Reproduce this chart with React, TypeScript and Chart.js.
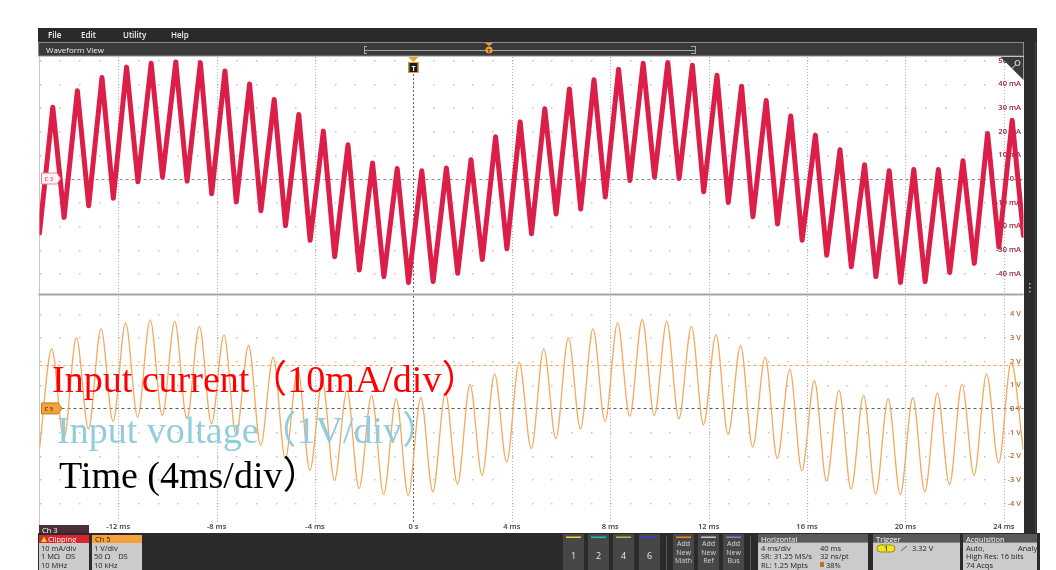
import React, { useEffect, useRef } from 'react';
import { Chart, registerables } from 'chart.js';

Chart.register(...registerables);

// ---------- axis / tick data ----------
const timeStart = -15.2; // ms, left edge of the record
const timeEnd = 24.8; // ms, right edge
const timeTicks = [-12, -8, -4, 0, 4, 8, 12, 16, 20, 24];
const timeTickLabels = ['-12 ms', '-8 ms', '-4 ms', '0 s', '4 ms', '8 ms', '12 ms', '16 ms', '20 ms', '24 ms'];
const currentTicks = [50, 40, 30, 20, 10, 0, -10, -20, -30, -40];
const currentTickLabels = ['50 mA', '40 mA', '30 mA', '20 mA', '10 mA', '0 A', '-10 mA', '-20 mA', '-30 mA', '-40 mA'];
const voltageTicks = [4, 3, 2, 1, 0, -1, -2, -3, -4];
const voltageTickLabels = ['4 V', '3 V', '2 V', '1 V', '0 V', '-1 V', '-2 V', '-3 V', '-4 V'];
const triggerLevel = 1.85; // V, orange dashed level

// ---------- waveform data (one value per 1 ms cycle) ----------
const cyclePeriod = 1; // ms
const currentPeakPhase = -14.66;
const currentTroughPhase = -14.2;
const voltagePeakPhase = -14.7;
const voltageTroughPhase = -14.21;

const currentStart = -23; // mA at left edge
const currentPeaks = [30.1, 37.0, 42.6, 47.0, 48.6, 49.2, 48.9, 45.4, 39.9, 33.3, 27.0, 20.0, 14.2, 6.5, 4.2, 3.3, 4.4, 7.9, 17.6, 23.9,
  29.4, 37.8, 41.7, 46.1, 48.6, 48.9, 47.8, 43.6, 38.9, 32.9, 26.4, 18.3, 12.1, 5.8, 3.3, 3.8, 3.8, 7.5, 19.0, 24.6];
const currentTroughs = [-16.4, -11.5, -8.3, -1.4, 0.6, -1.1, -6.4, -9.9, -13.6, -19.9, -26.1, -33.0, -38.6, -41.4, -43.9, -43.5, -40.0, -34.2, -29.6, -23.3,
  -15.0, -12.9, -7.8, -0.8, 0.6, 0.0, -5.6, -10.1, -16.1, -19.2, -26.1, -32.4, -37.2, -41.4, -43.9, -43.5, -39.7, -35.8, -28.9, -24.0];

const voltageStart = -1.7; // V at left edge
const voltagePeaks = [2.52, 2.98, 3.36, 3.62, 3.74, 3.68, 3.47, 3.11, 2.66, 2.17, 1.65, 1.14, 0.76, 0.55, 0.41, 0.45, 0.66, 1.0, 1.46, 1.95,
  2.52, 2.98, 3.36, 3.62, 3.76, 3.68, 3.47, 3.12, 2.66, 2.17, 1.65, 1.17, 0.77, 0.55, 0.41, 0.45, 0.66, 1.03, 1.46, 1.95];
const voltageTroughs = [-1.28, -0.86, -0.55, -0.37, -0.3, -0.44, -0.65, -1.11, -1.56, -2.12, -2.62, -3.04, -3.39, -3.64, -3.67, -3.53, -3.21, -2.83, -2.27, -1.7,
  -1.28, -0.86, -0.55, -0.33, -0.3, -0.44, -0.69, -1.11, -1.63, -2.12, -2.64, -3.07, -3.41, -3.62, -3.64, -3.53, -3.22, -2.83, -2.31, -1.75];

function buildTrace(start: number, peaks: number[], troughs: number[], pPhase: number, tPhase: number) {
  const pts: { x: number; y: number }[] = [{ x: timeStart, y: start }];
  for (let k = 0; k < peaks.length; k++) {
    pts.push({ x: pPhase + k * cyclePeriod, y: peaks[k] });
    pts.push({ x: tPhase + k * cyclePeriod, y: troughs[k] });
  }
  return pts;
}

const UI = '"Open Sans", "Noto Sans", sans-serif';
const SERIF = '"Liberation Serif", "Noto Sans CJK SC", serif';

function txt(ctx: CanvasRenderingContext2D, s: string, x: number, y: number, font: string, color: string, align: CanvasTextAlign = 'left') {
  ctx.font = font;
  ctx.fillStyle = color;
  ctx.textAlign = align;
  ctx.textBaseline = 'alphabetic';
  ctx.fillText(s, x, y);
}

function hLine(ctx: CanvasRenderingContext2D, x1: number, x2: number, y: number, color: string, dash: number[], w = 1) {
  ctx.beginPath();
  ctx.setLineDash(dash);
  ctx.strokeStyle = color;
  ctx.lineWidth = w;
  ctx.moveTo(x1, Math.round(y) + 0.5);
  ctx.lineTo(x2, Math.round(y) + 0.5);
  ctx.stroke();
  ctx.setLineDash([]);
}

function vLine(ctx: CanvasRenderingContext2D, x: number, y1: number, y2: number, color: string, dash: number[], w = 1) {
  ctx.beginPath();
  ctx.setLineDash(dash);
  ctx.strokeStyle = color;
  ctx.lineWidth = w;
  ctx.moveTo(Math.round(x) + 0.5, y1);
  ctx.lineTo(Math.round(x) + 0.5, y2);
  ctx.stroke();
  ctx.setLineDash([]);
}

const PANEL_SPLIT = 294;
const PANEL_BOTTOM = 522;

const scopePlugin = {
  id: 'scopeChrome',
  beforeDatasetsDraw(chart: any) {
    const ctx: CanvasRenderingContext2D = chart.ctx;
    const xs = chart.scales.x;
    const yI = chart.scales.yI;
    const yV = chart.scales.yV;
    const area = chart.chartArea;
    ctx.save();
    // grid: minor dot rows
    ctx.fillStyle = '#c4c4c4';
    for (let j = -4; j <= 46; j++) {
      const t = -12 + j * 0.8;
      if (t < timeStart || t > timeEnd) continue;
      const px = Math.round(xs.getPixelForValue(t));
      currentTicks.forEach((v) => {
        if (v === 0) return;
        ctx.fillRect(px, Math.round(yI.getPixelForValue(v)), 1.5, 1.5);
      });
      voltageTicks.forEach((v) => {
        if (v === 0) return;
        ctx.fillRect(px, Math.round(yV.getPixelForValue(v)), 1.5, 1.5);
      });
    }
    // major vertical dotted lines
    timeTicks.forEach((t) => {
      if (t === 0) return;
      const px = xs.getPixelForValue(t);
      vLine(ctx, px, area.top, PANEL_SPLIT - 1, 'rgba(150,150,150,0.75)', [1, 2]);
      vLine(ctx, px, PANEL_SPLIT + 2, PANEL_BOTTOM, 'rgba(150,150,150,0.75)', [1, 2]);
    });
    // left border of panel
    vLine(ctx, area.left - 1, area.top, PANEL_BOTTOM + 10, '#c8c8c8', []);
    // panel separator
    hLine(ctx, area.left - 1, area.right, PANEL_SPLIT - 0.5, '#a6a6a6', [], 2);
    // reference levels
    hLine(ctx, area.left + 20, area.right, yI.getPixelForValue(0), '#8c8c8c', [3, 3]);
    hLine(ctx, area.left + 22, area.right, yV.getPixelForValue(0), '#5c5c5c', [3, 3]);
    hLine(ctx, area.left, area.right, yV.getPixelForValue(triggerLevel), '#f3a55c', [3, 3]);
    // trigger time line
    const x0 = xs.getPixelForValue(0);
    vLine(ctx, x0, 74, PANEL_SPLIT - 1, '#666666', [2, 2]);
    vLine(ctx, x0, PANEL_SPLIT + 2, PANEL_BOTTOM, '#666666', [2, 2]);
    // right-side tick labels (drawn under the traces)
    currentTicks.forEach((v, i) => {
      txt(ctx, currentTickLabels[i], 1021, yI.getPixelForValue(v) + 2.5, `600 7.5px ${UI}`, '#a0233b', 'right');
    });
    voltageTicks.forEach((v, i) => {
      txt(ctx, voltageTickLabels[i], 1021, yV.getPixelForValue(v) + 2.5, `600 7.5px ${UI}`, '#b0682c', 'right');
    });
    ctx.restore();
  },
  afterDatasetsDraw(chart: any) {
    const ctx: CanvasRenderingContext2D = chart.ctx;
    const xs = chart.scales.x;
    const yI = chart.scales.yI;
    const yV = chart.scales.yV;
    const area = chart.chartArea;
    ctx.save();

    // time labels under the plot
    timeTicks.forEach((t, i) => {
      txt(ctx, timeTickLabels[i], xs.getPixelForValue(t), 529, `600 7.5px ${UI}`, '#3a3a3a', 'center');
    });

    // zoom triangle top right
    ctx.beginPath();
    ctx.moveTo(area.right - 23, area.top);
    ctx.lineTo(area.right, area.top);
    ctx.lineTo(area.right, area.top + 23);
    ctx.closePath();
    ctx.fillStyle = '#3b3b3b';
    ctx.fill();
    ctx.beginPath();
    ctx.strokeStyle = '#e8e8e8';
    ctx.lineWidth = 1;
    ctx.arc(area.right - 6, area.top + 6, 2.5, 0, Math.PI * 2);
    ctx.moveTo(area.right - 8, area.top + 8);
    ctx.lineTo(area.right - 12, area.top + 12);
    ctx.stroke();

    // C3 badge
    const c3y = yI.getPixelForValue(0);
    ctx.beginPath();
    ctx.moveTo(41.5, c3y - 5.5);
    ctx.lineTo(57, c3y - 5.5);
    ctx.lineTo(60.5, c3y);
    ctx.lineTo(57, c3y + 5.5);
    ctx.lineTo(41.5, c3y + 5.5);
    ctx.closePath();
    ctx.fillStyle = '#fff3f5';
    ctx.fill();
    ctx.strokeStyle = '#f0849a';
    ctx.stroke();
    txt(ctx, 'C 3', 44.5, c3y + 2.5, `600 6px ${UI}`, '#e0486a');

    // C5 badge
    const c5y = yV.getPixelForValue(0);
    ctx.beginPath();
    ctx.moveTo(41.5, c5y - 5.5);
    ctx.lineTo(58, c5y - 5.5);
    ctx.lineTo(62, c5y);
    ctx.lineTo(58, c5y + 5.5);
    ctx.lineTo(41.5, c5y + 5.5);
    ctx.closePath();
    ctx.fillStyle = '#f2a33a';
    ctx.fill();
    ctx.strokeStyle = '#c8781a';
    ctx.stroke();
    txt(ctx, 'C 5', 44.5, c5y + 2.5, `600 6px ${UI}`, '#5a3000');

    // trigger T marker
    const x0 = xs.getPixelForValue(0);
    ctx.beginPath();
    ctx.moveTo(x0 - 5, area.top);
    ctx.lineTo(x0 + 5, area.top);
    ctx.lineTo(x0, area.top + 5);
    ctx.closePath();
    ctx.fillStyle = '#f0a030';
    ctx.fill();
    ctx.fillStyle = '#1c1c1c';
    ctx.fillRect(x0 - 5, area.top + 5, 10, 11);
    ctx.strokeStyle = '#f0a030';
    ctx.lineWidth = 1;
    ctx.strokeRect(x0 - 4.5, area.top + 5.5, 9, 10);
    txt(ctx, 'T', x0, area.top + 13.5, `700 7px ${UI}`, '#ffffff', 'center');

    // ---------- scope chrome ----------
    // menu bar
    ctx.fillStyle = '#2a2a2a';
    ctx.fillRect(38, 28, 999, 14);
    txt(ctx, 'File', 48, 38, `600 8px ${UI}`, '#f2f2f2');
    txt(ctx, 'Edit', 81, 38, `600 8px ${UI}`, '#f2f2f2');
    txt(ctx, 'Utility', 123, 38, `600 8px ${UI}`, '#f2f2f2');
    txt(ctx, 'Help', 171, 38, `600 8px ${UI}`, '#f2f2f2');
    // waveform view bar
    ctx.fillStyle = '#3a3a3a';
    ctx.fillRect(38, 42, 986, 14);
    ctx.strokeStyle = '#8c8c8c';
    ctx.lineWidth = 1;
    ctx.strokeRect(38.5, 42.5, 985, 13.5);
    txt(ctx, 'Waveform View', 46, 53, `8px ${UI}`, '#f0f0f0');
    // record bracket
    hLine(ctx, 364, 695, 49.5, '#a8a8a8', []);
    vLine(ctx, 363.5, 46, 54, '#a8a8a8', []);
    hLine(ctx, 364, 367, 46, '#a8a8a8', []);
    hLine(ctx, 364, 367, 53, '#a8a8a8', []);
    vLine(ctx, 694.5, 46, 54, '#a8a8a8', []);
    hLine(ctx, 691, 695, 46, '#a8a8a8', []);
    hLine(ctx, 691, 695, 53, '#a8a8a8', []);
    ctx.beginPath();
    ctx.moveTo(485, 43);
    ctx.lineTo(493, 43);
    ctx.lineTo(489, 46);
    ctx.closePath();
    ctx.fillStyle = '#f0a030';
    ctx.fill();
    ctx.beginPath();
    ctx.arc(489, 50, 3.5, 0, Math.PI * 2);
    ctx.fillStyle = '#f0a030';
    ctx.fill();
    txt(ctx, 'T', 489, 52.5, `700 5px ${UI}`, '#3a2000', 'center');

    // right strip
    ctx.fillStyle = '#2c2c2c';
    ctx.fillRect(1024, 42, 13, 528);
    vLine(ctx, 1035, 42, 570, '#4a4a4a', []);
    ctx.fillStyle = '#bbbbbb';
    [283, 287, 291].forEach((yy) => ctx.fillRect(1029, yy, 1.5, 1.5));

    // bottom bar
    ctx.fillStyle = '#2b2b2b';
    ctx.fillRect(38, 533, 1002, 37);

    // Ch 3 tab + box
    ctx.fillStyle = '#4b2e35';
    ctx.fillRect(39, 525, 50, 8);
    txt(ctx, 'Ch 3', 42, 532.5, `7.5px ${UI}`, '#ffffff');
    ctx.fillStyle = '#d8262f';
    ctx.fillRect(39, 535, 50, 8);
    ctx.beginPath();
    ctx.moveTo(41, 542);
    ctx.lineTo(44, 536.5);
    ctx.lineTo(47, 542);
    ctx.closePath();
    ctx.fillStyle = '#f5d020';
    ctx.fill();
    txt(ctx, 'Clipping', 48, 542, `7.5px ${UI}`, '#ffffff');
    ctx.fillStyle = '#cbcbcb';
    ctx.fillRect(39, 543, 50, 27);
    txt(ctx, '10 mA/div', 41, 550.5, `7.5px ${UI}`, '#222222');
    txt(ctx, '1 MΩ   DS', 41, 559, `7.5px ${UI}`, '#222222');
    txt(ctx, '10 MHz', 41, 567.5, `7.5px ${UI}`, '#222222');
    // Ch 5 box
    ctx.fillStyle = '#f5a23c';
    ctx.fillRect(92, 535, 50, 8);
    txt(ctx, 'Ch 5', 95, 542, `7.5px ${UI}`, '#3a2000');
    ctx.fillStyle = '#cbcbcb';
    ctx.fillRect(92, 543, 50, 27);
    txt(ctx, '1 V/div', 94, 550.5, `7.5px ${UI}`, '#222222');
    txt(ctx, '50 Ω    DS', 94, 559, `7.5px ${UI}`, '#222222');
    txt(ctx, '10 kHz', 94, 567.5, `7.5px ${UI}`, '#222222');

    // channel buttons
    const chButtons: [number, string, string][] = [[563, '1', '#e6dc2c'], [588, '2', '#22c0b0'], [613, '4', '#9ccc30'], [639, '6', '#3a44d0']];
    chButtons.forEach(([bx, label, col]) => {
      ctx.fillStyle = '#474747';
      ctx.fillRect(bx, 534, 21, 36);
      ctx.fillStyle = col;
      ctx.fillRect(bx + 3, 536.5, 15, 1.5);
      txt(ctx, label, bx + 10.5, 558.5, `9px ${UI}`, '#e8e8e8', 'center');
    });
    vLine(ctx, 666, 536, 570, '#5a5a5a', []);
    const addButtons: [number, string, string][] = [[673, 'Math', '#f08a20'], [698, 'Ref', '#c8c8c8'], [723, 'Bus', '#a070e0']];
    addButtons.forEach(([bx, label, col]) => {
      ctx.fillStyle = '#474747';
      ctx.fillRect(bx, 534, 21, 36);
      ctx.fillStyle = col;
      ctx.fillRect(bx + 3, 536.5, 15, 1.5);
      txt(ctx, 'Add', bx + 10.5, 546, `7px ${UI}`, '#d6d6d6', 'center');
      txt(ctx, 'New', bx + 10.5, 554.5, `7px ${UI}`, '#d6d6d6', 'center');
      txt(ctx, label, bx + 10.5, 563, `7px ${UI}`, '#d6d6d6', 'center');
    });
    vLine(ctx, 750, 536, 570, '#5a5a5a', []);

    // info boxes
    const infoBox = (bx: number, w: number, title: string) => {
      ctx.fillStyle = '#5a5a5a';
      ctx.fillRect(bx, 534, w, 8.5);
      txt(ctx, title, bx + 3, 541.5, `7.5px ${UI}`, '#ffffff');
      ctx.fillStyle = '#cbcbcb';
      ctx.fillRect(bx, 542.5, w, 27.5);
    };
    infoBox(758, 110, 'Horizontal');
    txt(ctx, '4 ms/div', 761, 550.5, `7.5px ${UI}`, '#222222');
    txt(ctx, '40 ms', 820, 550.5, `7.5px ${UI}`, '#222222');
    txt(ctx, 'SR: 31.25 MS/s', 761, 559, `7.5px ${UI}`, '#222222');
    txt(ctx, '32 ns/pt', 820, 559, `7.5px ${UI}`, '#222222');
    txt(ctx, 'RL: 1.25 Mpts', 761, 567.5, `7.5px ${UI}`, '#222222');
    ctx.fillStyle = '#c07020';
    ctx.fillRect(820, 562, 4, 5);
    txt(ctx, '38%', 826, 567.5, `7.5px ${UI}`, '#222222');

    infoBox(873, 87, 'Trigger');
    ctx.beginPath();
    ctx.roundRect(877, 545, 18, 7, 3.5);
    ctx.fillStyle = '#f0e424';
    ctx.fill();
    ctx.strokeStyle = '#9a8c00';
    ctx.stroke();
    txt(ctx, '1', 886, 551, `600 6.5px ${UI}`, '#333300', 'center');
    ctx.beginPath();
    ctx.strokeStyle = '#555555';
    ctx.moveTo(901, 551);
    ctx.lineTo(907, 546);
    ctx.stroke();
    txt(ctx, '3.32 V', 912, 551, `7.5px ${UI}`, '#222222');

    infoBox(963, 74, 'Acquisition');
    ctx.save();
    ctx.beginPath();
    ctx.rect(963, 534, 74, 36);
    ctx.clip();
    txt(ctx, 'Auto,', 966, 550.5, `7.5px ${UI}`, '#222222');
    txt(ctx, 'Analyze', 1018, 550.5, `7.5px ${UI}`, '#222222');
    txt(ctx, 'High Res: 16 bits', 966, 559, `7.5px ${UI}`, '#222222');
    txt(ctx, '74 Acqs', 966, 567.5, `7.5px ${UI}`, '#222222');
    ctx.restore();

    // ---------- annotation labels ----------
    txt(ctx, 'Input current（10mA/div）', 52, 392, `38px ${SERIF}`, '#ff0000');
    txt(ctx, 'Input voltage（1V/div）', 57, 443, `38px ${SERIF}`, '#93cddd');
    txt(ctx, 'Time (4ms/div）', 59, 488, `38px ${SERIF}`, '#000000');

    ctx.restore();
  },
};

export default function App() {
  const ref = useRef<HTMLCanvasElement>(null);
  useEffect(() => {
    document.body.style.margin = '0';
    const canvas = ref.current;
    if (!canvas) return;
    const chart = new Chart(canvas, {
      type: 'line',
      data: {
        datasets: [
          {
            label: 'Input current',
            data: buildTrace(currentStart, currentPeaks, currentTroughs, currentPeakPhase, currentTroughPhase),
            yAxisID: 'yI',
            borderColor: '#dc1f48',
            borderWidth: 5,
            borderJoinStyle: 'round',
            borderCapStyle: 'round',
            pointRadius: 0,
            tension: 0,
            clip: 0,
          },
          {
            label: 'Input voltage',
            data: buildTrace(voltageStart, voltagePeaks, voltageTroughs, voltagePeakPhase, voltageTroughPhase),
            yAxisID: 'yV',
            borderColor: '#f4a95e',
            borderWidth: 1.3,
            pointRadius: 0,
            cubicInterpolationMode: 'monotone',
            clip: 0,
          },
        ],
      } as any,
      options: {
        responsive: false,
        animation: false,
        devicePixelRatio: 1,
        events: [],
        parsing: true,
        layout: { padding: { left: 39.5, right: 32.5, top: 57, bottom: 45 } },
        plugins: { legend: { display: false }, tooltip: { enabled: false } },
        scales: {
          x: { type: 'linear', min: timeStart, max: timeEnd, display: false },
          yI: { type: 'linear', position: 'right', min: -146.2, max: 51.27, display: false },
          yV: { type: 'linear', position: 'right', min: -4.93, max: 14.86, display: false },
        },
      } as any,
      plugins: [scopePlugin],
    });
    return () => chart.destroy();
  }, []);
  return (
    <div style={{ position: 'absolute', left: 0, top: 0, width: 1056, height: 570, background: '#ffffff' }}>
      <canvas ref={ref} width={1056} height={570} style={{ display: 'block', width: 1056, height: 570 }} />
    </div>
  );
}
